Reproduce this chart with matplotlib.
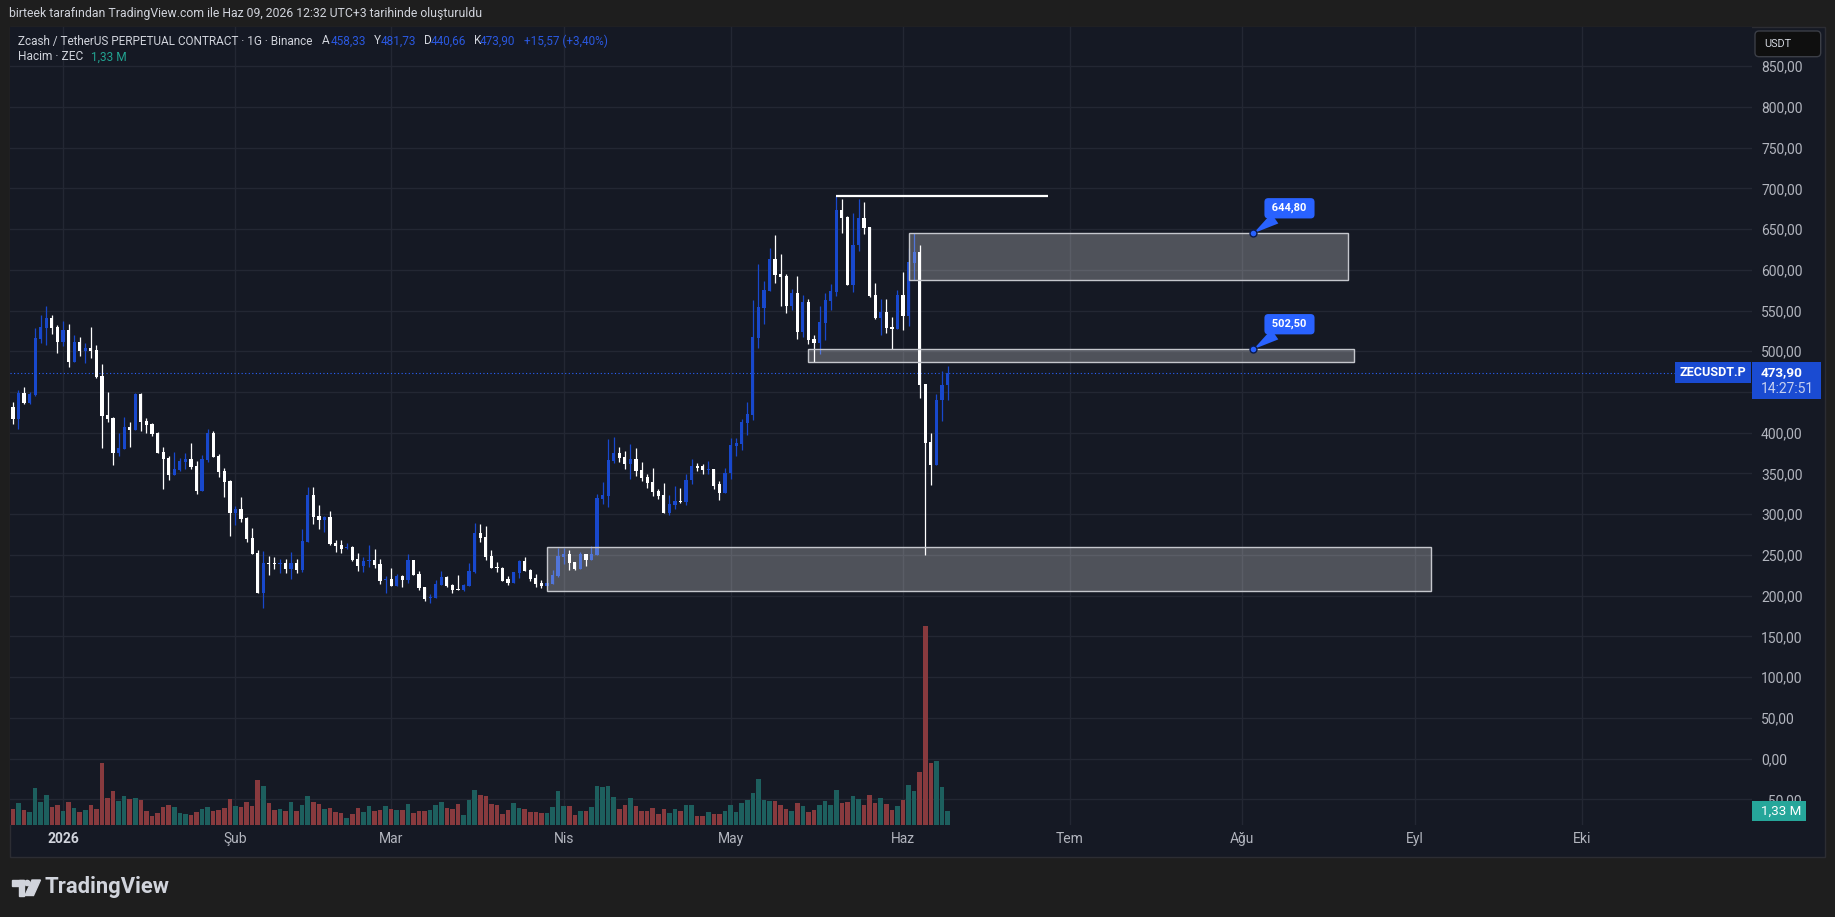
import numpy as np
import matplotlib
matplotlib.use("Agg")
import matplotlib.pyplot as plt
import matplotlib.dates as mdates
from matplotlib.patches import Rectangle, FancyBboxPatch, Polygon, Circle
from matplotlib.transforms import IdentityTransform

plt.rcParams["font.family"] = ["Roboto", "DejaVu Sans"]

W, H = 1835, 917

# ZEC/USDT perp daily candles, 23 Dec 2025 .. 9 Jun 2026
first_day = "2025-12-23"
opens = [
    431.5, 417.2, 448.7, 436.4, 446.2, 515.0, 528.5, 540.7, 529.7, 511.3,
    526.0, 486.7, 511.3, 500.2, 503.9, 501.5, 469.5, 421.7, 418.0, 375.0,
    379.9, 407.0, 403.3, 447.5, 414.3, 410.6, 399.6, 376.3, 368.9, 348.0,
    354.2, 364.0, 367.7, 359.1, 328.4, 366.5, 399.6, 371.4, 353.0, 340.7,
    301.4, 306.3, 295.3, 270.7, 252.3, 203.2, 240.0, 240.0, 238.8, 240.0,
    232.7, 240.0, 231.5, 266.2, 323.5, 297.7, 292.8, 296.5, 264.6, 262.1,
    258.5, 259.7, 244.9, 236.4, 242.5, 243.7, 238.8, 219.2, 220.4, 211.8,
    224.1, 219.2, 243.7, 226.5, 210.6, 197.1, 197.1, 213.0, 222.9, 213.0,
    208.1, 206.9, 211.8, 229.0, 276.9, 271.9, 248.6, 235.1, 233.9, 220.4,
    215.5, 227.8, 242.5, 231.5, 221.6, 215.5, 211.8, 214.3, 224.1, 247.4,
    251.1, 241.3, 232.7, 251.1, 243.7, 249.9, 318.6, 322.3, 365.2, 374.6,
    370.1, 361.5, 367.7, 354.2, 345.6, 339.5, 328.4, 323.5, 301.0, 311.2,
    316.1, 314.9, 341.9, 359.1, 359.1, 354.2, 355.4, 337.0, 326.0, 350.5,
    383.6, 386.1, 411.9, 421.7, 516.2, 553.0, 573.9, 613.1, 594.7, 592.3,
    555.5, 571.4, 523.5, 560.4, 515.0, 510.1, 534.6, 561.6, 572.6, 673.3,
    664.7, 581.2, 630.3, 663.5, 652.4, 569.0, 540.7, 548.1, 529.7, 527.2,
    569.0, 543.2, 608.2, 621.7, 459.7, 388.5, 360.3, 440.1, 458.33,
]
highs = [
    437.6, 452.4, 456.1, 449.9, 528.5, 544.4, 555.5, 544.4, 532.1, 537.0,
    533.4, 519.9, 517.4, 510.1, 529.7, 507.6, 484.3, 449.9, 419.2, 399.6,
    419.2, 413.1, 448.7, 448.7, 418.0, 411.9, 400.8, 382.4, 371.4, 376.3,
    368.9, 375.0, 387.3, 365.2, 372.6, 404.5, 402.0, 373.8, 356.6, 341.9,
    310.0, 321.0, 296.5, 283.0, 256.0, 254.8, 248.6, 247.4, 244.9, 244.9,
    253.5, 244.9, 281.8, 333.3, 333.3, 311.2, 297.7, 303.9, 268.3, 268.3,
    264.6, 260.9, 252.3, 247.4, 262.1, 257.2, 244.9, 224.1, 233.9, 226.5,
    225.3, 251.1, 243.7, 230.2, 210.6, 202.0, 219.2, 230.2, 224.1, 214.3,
    225.3, 214.3, 240.0, 289.1, 287.9, 285.5, 256.0, 241.3, 235.1, 224.1,
    229.0, 243.7, 247.4, 232.7, 226.5, 219.2, 220.4, 231.5, 258.5, 258.5,
    256.0, 241.3, 253.5, 251.1, 260.9, 324.7, 339.5, 392.2, 394.7, 382.4,
    377.5, 386.1, 381.2, 364.0, 349.3, 356.6, 330.9, 338.2, 323.5, 334.5,
    332.1, 349.3, 367.7, 362.8, 361.5, 365.2, 355.4, 340.7, 356.6, 393.4,
    393.4, 416.8, 437.6, 562.8, 607.0, 586.1, 626.6, 642.6, 619.3, 594.7,
    576.3, 592.3, 569.0, 564.0, 519.9, 555.5, 571.4, 582.5, 690.0, 686.8,
    665.9, 669.6, 686.8, 683.1, 652.4, 583.7, 564.0, 564.0, 542.0, 575.1,
    597.2, 626.6, 644.6, 630.3, 459.7, 399.6, 447.4, 475.7, 481.73,
]
lows = [
    411.1, 404.9, 435.6, 435.2, 445.0, 510.1, 507.6, 521.1, 497.8, 506.4,
    480.6, 486.7, 494.1, 485.5, 491.6, 467.1, 381.2, 413.1, 360.3, 371.4,
    379.9, 382.4, 403.3, 402.0, 399.6, 395.9, 375.0, 330.9, 341.9, 348.0,
    353.0, 355.4, 355.4, 324.7, 328.4, 364.0, 370.1, 345.6, 321.0, 273.2,
    286.7, 290.4, 265.8, 251.1, 203.2, 184.8, 225.3, 232.7, 227.8, 227.8,
    220.4, 227.8, 229.0, 266.2, 287.9, 281.8, 278.1, 262.1, 253.5, 252.3,
    257.2, 242.5, 230.2, 229.0, 235.1, 233.9, 214.3, 203.2, 211.8, 211.8,
    210.6, 215.5, 225.3, 206.9, 193.4, 190.9, 197.1, 213.0, 210.6, 203.2,
    206.9, 205.7, 211.8, 227.8, 265.8, 243.7, 233.9, 229.0, 217.9, 213.0,
    215.5, 221.6, 230.2, 217.9, 210.6, 209.4, 211.8, 214.3, 222.9, 238.8,
    231.5, 231.5, 232.7, 236.4, 243.7, 249.9, 312.5, 308.8, 362.8, 364.0,
    355.4, 343.1, 346.8, 340.7, 332.1, 322.3, 318.6, 301.0, 298.5, 306.3,
    313.7, 311.2, 337.0, 352.9, 349.3, 349.3, 330.9, 317.4, 326.0, 343.1,
    371.4, 378.7, 397.1, 415.5, 503.9, 533.4, 573.9, 583.7, 555.5, 546.9,
    550.6, 515.0, 517.4, 508.8, 486.7, 496.5, 513.7, 550.6, 567.7, 645.1,
    581.2, 572.6, 622.9, 643.8, 566.5, 539.5, 519.9, 522.3, 502.7, 527.2,
    526.0, 530.9, 587.4, 442.5, 249.9, 335.8, 360.3, 414.3, 440.66,
]
closes = [
    417.2, 448.7, 436.4, 447.5, 516.2, 529.7, 540.7, 528.5, 511.3, 526.0,
    486.7, 511.3, 500.2, 503.9, 500.2, 468.3, 420.5, 416.8, 375.0, 381.2,
    407.0, 403.3, 447.5, 413.1, 409.4, 398.4, 375.0, 367.7, 348.0, 355.4,
    365.2, 367.7, 357.9, 328.4, 367.7, 399.6, 370.1, 351.7, 339.5, 301.4,
    306.3, 294.0, 269.5, 251.1, 203.2, 240.0, 238.8, 238.8, 240.0, 232.7,
    240.0, 231.5, 267.0, 323.5, 296.5, 292.8, 296.5, 263.4, 260.9, 257.2,
    259.7, 243.7, 236.4, 242.5, 243.7, 237.6, 217.9, 220.4, 211.8, 224.1,
    219.2, 243.7, 225.3, 209.4, 195.9, 198.3, 214.3, 222.9, 211.8, 206.9,
    206.9, 213.0, 230.2, 276.9, 270.7, 247.4, 233.9, 233.9, 217.9, 215.5,
    229.0, 242.5, 230.2, 220.4, 214.3, 211.8, 215.5, 225.3, 248.6, 251.1,
    240.0, 232.7, 251.1, 243.7, 251.1, 319.8, 323.5, 366.5, 374.6, 368.9,
    361.5, 367.7, 352.9, 344.4, 338.2, 327.2, 322.3, 301.0, 312.4, 316.1,
    314.9, 341.9, 359.1, 356.6, 354.2, 355.4, 334.5, 326.0, 350.5, 384.9,
    387.3, 413.1, 422.9, 517.4, 554.2, 575.1, 613.1, 593.5, 591.1, 555.5,
    571.4, 523.5, 560.4, 513.7, 510.1, 535.8, 562.8, 573.9, 673.3, 663.5,
    581.2, 630.3, 663.5, 651.2, 567.7, 540.7, 548.1, 528.5, 527.2, 569.0,
    543.2, 609.5, 621.7, 458.5, 387.3, 360.3, 440.1, 458.5, 473.90,
]
# volume in millions of ZEC
volume_m = [
    1.52, 2.09, 1.43, 1.24, 3.52, 2.19, 2.85, 1.71, 1.90, 1.33,
    2.19, 1.62, 1.24, 1.43, 1.90, 1.52, 5.89, 2.57, 3.23, 2.28,
    2.76, 2.47, 2.57, 2.38, 1.33, 0.86, 1.14, 1.71, 1.90, 1.71,
    1.14, 1.05, 0.95, 1.24, 1.52, 1.71, 1.33, 1.43, 1.62, 2.47,
    1.81, 1.71, 2.19, 1.81, 4.28, 3.71, 2.09, 1.43, 1.52, 1.33,
    2.19, 1.33, 1.90, 2.76, 2.19, 2.00, 1.52, 1.62, 1.24, 1.14,
    0.67, 1.05, 1.62, 1.24, 1.81, 1.33, 1.43, 1.81, 1.52, 1.43,
    1.43, 2.00, 1.14, 1.33, 1.33, 1.43, 1.90, 2.19, 1.62, 1.52,
    2.00, 0.95, 2.38, 3.33, 2.85, 2.76, 2.00, 1.90, 1.05, 1.43,
    2.09, 1.62, 1.52, 1.24, 1.24, 1.14, 1.14, 1.71, 3.23, 1.81,
    1.81, 0.95, 1.33, 1.33, 1.71, 3.71, 3.61, 3.71, 2.66, 1.52,
    1.90, 2.57, 1.81, 1.33, 1.33, 1.62, 1.05, 1.52, 1.14, 1.52,
    1.33, 1.90, 1.90, 0.86, 0.86, 1.24, 1.05, 1.05, 1.33, 1.90,
    1.24, 2.09, 2.38, 3.04, 4.37, 2.38, 2.28, 2.28, 1.90, 1.52,
    1.33, 2.09, 1.81, 1.24, 1.43, 1.90, 2.28, 1.90, 3.33, 2.09,
    2.19, 2.76, 2.47, 1.90, 2.85, 2.09, 2.57, 2.00, 1.43, 1.81,
    2.38, 3.80, 3.23, 5.04, 18.9, 5.89, 6.08, 3.61, 1.33,
]

month_ticks = ["2026-01-01", "2026-02-01", "2026-03-01", "2026-04-01", "2026-05-01",
               "2026-06-01", "2026-07-01", "2026-08-01", "2026-09-01", "2026-10-01"]
month_labels = ["2026", "Şub", "Mar", "Nis", "May", "Haz", "Tem", "Ağu", "Eyl", "Eki"]
price_ticks = list(range(-50, 851, 50))

last_price = 473.90
last_volume = 1.33

# drawn zones (lower, upper, middle)
zone_left = ["2026-03-29", "2026-06-02", "2026-05-15"]
zone_right = ["2026-09-04", "2026-08-20", "2026-08-21"]
zone_low = [205.7, 587.4, 486.4]
zone_high = [259.3, 644.8, 502.5]
top_line = ["2026-05-20", "2026-06-27"]
top_line_price = 690.0
callout_day = "2026-08-03"
callout_prices = [644.80, 502.50]

BG = "#151924"
BLUE = "#1848cc"
TVBLUE = "#2962ff"
GREY = "#b2b5be"
LIGHT = "#d1d4dc"

fig = plt.figure(figsize=(W / 100, H / 100), dpi=100, facecolor="#1e1e1e")
px = IdentityTransform()
rend = fig.canvas.get_renderer()


def P(x, y):
    # top-left pixel coords -> display coords
    return x, H - y


def label(x, y, s, width=None, size=10, **kw):
    t = fig.text(*P(x, y), s, transform=px, fontsize=size, va="center", **kw)
    if width:
        t.set_fontsize(size * width / t.get_window_extent(rend).width)
    return t


def d2n(s):
    return mdates.date2num(np.datetime64(s))


def price_fmt(v, pos):
    # the 450 label sits under the last-price tag, so TradingView hides it
    if abs(v - 450) < 1e-6:
        return ""
    return f"{v:.2f}".replace(".", ",").replace("-", "\u2212")


fig.patches.append(Rectangle(P(10, 857), 1815, 830, transform=px, fc=BG,
                             ec="#2c2d33", lw=1, zorder=-5))

ax = fig.add_axes([10 / W, 1 - 825 / H, 1742 / W, 798 / H])
ax.set_facecolor(BG)

o, h, l, c = (np.array(v, float) for v in (opens, highs, lows, closes))
x = mdates.date2num(np.datetime64(first_day) + np.arange(len(o)))
up = c >= o
ccol = np.where(up, BLUE, "#ffffff")

axv = ax.twinx()
axv.bar(x, volume_m, width=0.82, color=np.where(up, "#1d5f5e", "#883a3e"), lw=0)
axv.set_ylim(0, 75.8)
axv.set_axis_off()

ax.vlines(x, l, h, colors=ccol, lw=0.9, zorder=3)
ax.bar(x, np.maximum(np.abs(c - o), 1.3), bottom=np.minimum(o, c), width=0.58,
       color=ccol, lw=0, zorder=3)

jan1 = d2n("2026-01-01")
ppd = 5.563  # pixels per day
ax.set_xlim(jan1 + (10 - 63) / ppd, jan1 + (1752 - 63) / ppd)
ax.set_ylim(-81.5, 898.0)

ax.yaxis.tick_right()
ax.set_yticks(price_ticks)
ax.yaxis.set_major_formatter(price_fmt)
ax.set_xticks([d2n(m) for m in month_ticks])
ax.set_xticklabels(month_labels)
ax.tick_params(length=0, colors=GREY, labelsize=10)
ax.tick_params(axis="y", pad=6.5)
ax.tick_params(axis="x", pad=5)
ax.grid(color="#232733", lw=1)
ax.set_axisbelow(True)
for s in ax.spines.values():
    s.set_visible(False)
first = ax.get_xticklabels()[0]
first.set_fontweight("bold")
first.set_color(LIGHT)

ax.axhline(last_price, color=TVBLUE, lw=0.8, ls=(0, (1, 2.2)), zorder=2)

for a, b, lo, hi in zip(zone_left, zone_right, zone_low, zone_high):
    ax.add_patch(Rectangle((d2n(a), lo), d2n(b) - d2n(a), hi - lo,
                           fc=(1, 1, 1, 0.25), ec="#c5c7cd", lw=1, zorder=4))

ax.plot([d2n(top_line[0]), d2n(top_line[1])], [top_line_price] * 2, color="white",
        lw=1.6, solid_capstyle="butt", zorder=5)

for p in callout_prices:
    ax.annotate(" " + f"{p:.2f}".replace(".", ",") + " ", xy=(d2n(callout_day), p),
                xytext=(36, 25), textcoords="offset pixels", ha="center", va="center",
                color="white", fontsize=8, fontweight="bold", zorder=8,
                bbox=dict(boxstyle="round,pad=0.45,rounding_size=0.35", fc=TVBLUE, ec="none"),
                arrowprops=dict(arrowstyle="wedge,tail_width=1.1", fc=TVBLUE, ec="none",
                                shrinkA=0, shrinkB=0))
    ax.plot(d2n(callout_day), p, "o", ms=5, mfc=TVBLUE, mec="#0b1a4a", mew=1, zorder=9)

# price / volume tags on the right axis
yp = H - ax.transData.transform((0, last_price))[1]
yv = H - axv.transData.transform((0, last_volume))[1]
fig.patches.append(Rectangle(P(1752, yp + 26.2), 68.7, 36.4, transform=px, fc="#1a4bd2", lw=0, zorder=5))
fig.patches.append(Rectangle(P(1675, yp + 10.2), 75.7, 20.4, transform=px, fc="#1a4bd2", lw=0, zorder=5))
fig.patches.append(Rectangle(P(1752, yv + 10), 53.7, 20, transform=px, fc="#26a69a", lw=0, zorder=5))
label(1761, yp, "473,90", width=41.7, color="white", fontweight="bold", zorder=6)
label(1761, yp + 16, "14:27:51", width=53, color="#c6d0f0", zorder=6)
label(1712.8, yp, "ZECUSDT.P", width=67, color="white", fontweight="bold", ha="center", zorder=6)
label(1761, yv, "1,33 M", width=40, color="white", zorder=6)

fig.patches.append(FancyBboxPatch(P(1755, 56.7), 65.7, 25.7, boxstyle="round,pad=0,rounding_size=4",
                                  transform=px, fc="#0f0f0f", ec="#3b3e46", lw=1, zorder=5))
label(1764, 44, "USDT", width=27.4, color=LIGHT, zorder=6)

# header
label(9.4, 14, "birteek tarafından TradingView.com ile Haz 09, 2026 12:32 UTC+3 tarihinde oluşturuldu",
      width=471, color=LIGHT)
t = label(17.9, 41, "Zcash / TetherUS PERPETUAL CONTRACT · 1G · Binance", width=296, color=LIGHT)
fs = t.get_fontsize()
VAL = "#2a58e0"
for xx, s, col in [(322.3, "A", LIGHT), (330.4, "458,33", VAL), (374.1, "Y", LIGHT), (380.4, "481,73", VAL),
                   (424.1, "D", LIGHT), (430.8, "440,66", VAL), (474.1, "K", LIGHT), (480.0, "473,90", VAL),
                   (524.5, "+15,57 (+3,40%)", VAL)]:
    label(xx, 41, s, size=fs, color=col)
t = label(17.9, 57, "Hacim · ZEC", width=64.7, color=LIGHT)
label(90.6, 57, "1,33 M", size=t.get_fontsize(), color="#22a391")

# TradingView logo
for part in [Rectangle(P(11.5, 885.5), 12.5, 5.5), Rectangle(P(18.5, 895.5), 5.5, 15.5),
             Circle(P(27.3, 883), 2.6),
             Polygon([P(32, 880), P(40.5, 880), P(33.5, 895.5), P(25, 895.5)])]:
    part.set_transform(px)
    part.set_color(LIGHT)
    fig.patches.append(part)
label(44.5, 887, "TradingView", width=125.5, color=LIGHT, fontweight="semibold")

fig.savefig("out.png", dpi=100, facecolor=fig.get_facecolor())
